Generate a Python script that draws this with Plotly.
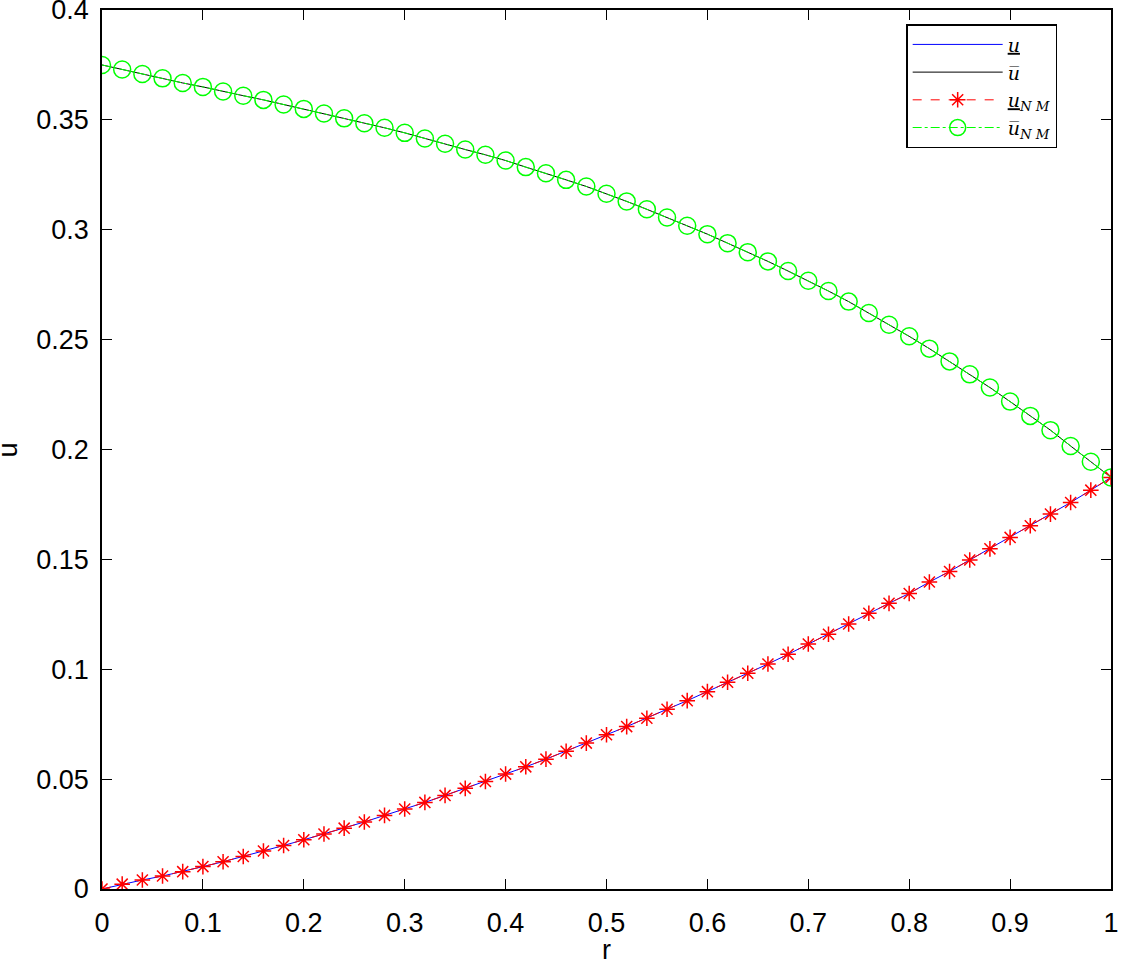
import plotly.graph_objects as go

r = [round(0.02 * i, 2) for i in range(51)]

u_lower = [0.0, 0.0022, 0.0041, 0.0059, 0.0079, 0.0102, 0.0124, 0.0148, 0.0173, 0.0198,
           0.0224, 0.0250, 0.0277, 0.0305, 0.0335, 0.0364, 0.0394, 0.0426, 0.0458, 0.0489,
           0.0523, 0.0556, 0.0591, 0.0627, 0.0664, 0.0702, 0.0739, 0.0777, 0.0818, 0.0857,
           0.0898, 0.0941, 0.0982, 0.1024, 0.1068, 0.1115, 0.1159, 0.1206, 0.1255, 0.1300,
           0.1345, 0.1397, 0.1445, 0.1497, 0.1548, 0.1600, 0.1653, 0.1706, 0.1759, 0.1815,
           0.1873]

u_upper = [0.3750, 0.3729, 0.3709, 0.3689, 0.3668, 0.3650, 0.3629, 0.3610, 0.3591, 0.3570,
           0.3550, 0.3529, 0.3507, 0.3485, 0.3464, 0.3441, 0.3415, 0.3391, 0.3365, 0.3341,
           0.3315, 0.3285, 0.3257, 0.3227, 0.3197, 0.3164, 0.3129, 0.3093, 0.3056, 0.3018,
           0.2980, 0.2939, 0.2898, 0.2856, 0.2812, 0.2768, 0.2721, 0.2673, 0.2621, 0.2568,
           0.2515, 0.2459, 0.2401, 0.2342, 0.2282, 0.2218, 0.2153, 0.2088, 0.2016, 0.1944,
           0.1873]

x_ticks = [0, 0.1, 0.2, 0.3, 0.4, 0.5, 0.6, 0.7, 0.8, 0.9, 1]
y_ticks = [0, 0.05, 0.1, 0.15, 0.2, 0.25, 0.3, 0.35, 0.4]

ul = '<u><i>u</i></u>'
ol = '<i>u\u0305</i>'
nm = '<sub><i>N M</i></sub>'

fig = go.Figure()
fig.add_trace(go.Scatter(x=r, y=u_lower, mode='lines', name=ul,
                         line=dict(color='#0000ff', width=1)))
fig.add_trace(go.Scatter(x=r, y=u_upper, mode='lines', name=ol,
                         line=dict(color='black', width=1)))
fig.add_trace(go.Scatter(x=r, y=u_lower, mode='lines+markers', name=ul + nm,
                         line=dict(color='#ff0000', width=1, dash='dash'),
                         marker=dict(symbol='asterisk-open', size=13,
                                     line=dict(color='#ff0000', width=1.5))))
fig.add_trace(go.Scatter(x=r, y=u_upper, mode='lines+markers', name=ol + nm,
                         line=dict(color='#00ff00', width=1, dash='dashdot'),
                         marker=dict(symbol='circle-open', size=17,
                                     line=dict(color='#00ff00', width=1.5))))

tick_font = dict(family='Liberation Sans', size=27, color='black')
axis_style = dict(showline=True, linecolor='black', linewidth=1.5, mirror='ticks',
                  ticks='inside', ticklen=10, tickcolor='black', tickwidth=1.2,
                  showgrid=False, zeroline=False, automargin=False,
                  ticklabeloverflow='allow', tickfont=tick_font)

fig.update_xaxes(range=[0, 1], tickvals=x_ticks, ticklabelstandoff=9, **axis_style)
fig.update_yaxes(range=[0, 0.4], tickvals=y_ticks, ticklabelstandoff=6, **axis_style)

# axis titles as annotations so they can sit where the reference puts them
fig.add_annotation(text='r', xref='paper', yref='paper', x=0.5, y=-0.0694,
                   showarrow=False, font=tick_font, yanchor='middle')
fig.add_annotation(text='u', xref='paper', yref='paper', x=-0.0932, y=0.5,
                   textangle=-90, showarrow=False, font=tick_font, xanchor='center')

fig.update_layout(
    width=1121, height=960,
    margin=dict(l=102, r=10, t=10, b=71),
    plot_bgcolor='white', paper_bgcolor='white',
    font=dict(family='Liberation Sans', color='black'),
    legend=dict(x=0.797, y=0.984, xanchor='left', yanchor='top',
                bordercolor='black', borderwidth=1.5, bgcolor='white',
                traceorder='normal', tracegroupgap=0, itemwidth=90,
                font=dict(family='DejaVu Serif', size=19)),
)

# drop the browser's default 8px body margin so the figure sits at (0, 0)
fig.write_html("out.html", config={'displayModeBar': False},
               post_script="document.body.style.margin='0';")
